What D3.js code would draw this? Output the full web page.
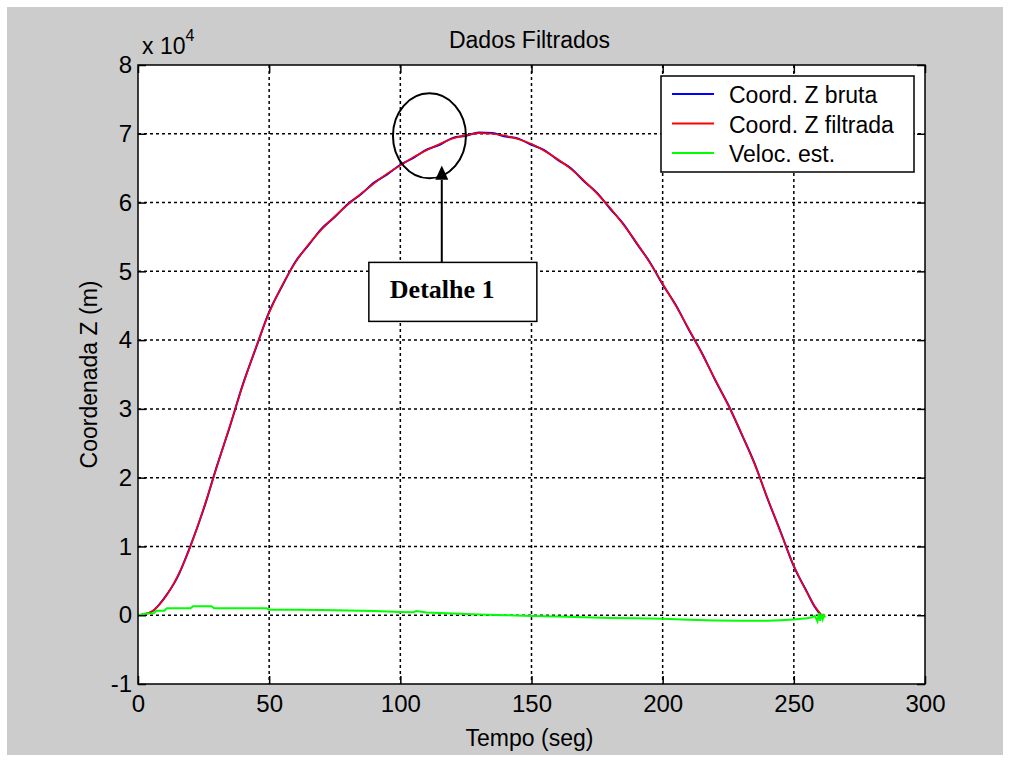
<!DOCTYPE html>
<html>
<head>
<meta charset="utf-8">
<script src="https://cdn.jsdelivr.net/npm/d3@7"></script>
<style>
  body { margin: 0; background: #fff; }
  text { font-family: "Liberation Sans", Arial, sans-serif; fill: #000; }
  text.serif { font-family: "Liberation Serif", "Times New Roman", serif; font-weight: bold; }
</style>
</head>
<body>
<div id="wrapper"></div>
<script>
// tempo (seg) e coordenada Z (m)
const tempoZ = [0,5,10,15,20,25,30,35,40,45,50,55,60,65,70,75,80,85,90,95,100,105,110,115,120,125,130,
  135,140,145,150,155,160,165,170,175,180,185,190,195,200,205,210,215,220,225,230,235,240,245,250,255,258,260.6];
const zFiltrada = [0,500,2400,5600,10000,15500,21500,27500,33500,39000,44000,48000,51300,53900,56100,58000,59700,61300,62800,64200,65400,66600,67600,68500,69300,69800,70100,
  70000,69700,69200,68500,67500,66300,64900,63200,61300,59200,56800,54200,51300,48200,45000,41600,38000,34300,30500,26500,22000,17000,12000,7200,3300,1300,0];
const zBruta = [0,450,2500,5500,10100,15400,21600,27400,33600,38900,44100,47900,51400,53800,56200,57900,59800,61200,62900,64100,65500,66500,67700,68400,69400,69700,70200,
  70100,69600,69300,68400,67600,66200,65000,63100,61400,59100,56900,54100,51400,48100,45100,41500,38100,34200,30600,26400,22100,16900,12100,7100,3400,1200,-100];

// velocidade estimada
const tempoV = [0,3,6,7,10,11,20,21,28,29,49,50,60,70,80,90,100,105,106,110,120,130,140,150,160,170,180,190,200,210,
  220,230,240,245,250,255,257,258,259,259.5,260,260.5,261,261.5,262];
const veloc = [0,250,300,650,650,1000,1000,1300,1300,1000,1000,800,780,750,700,600,480,450,600,380,250,120,0,-100,-200,-300,-400,-450,-500,-650,
  -750,-800,-800,-720,-620,-450,-300,-100,-900,300,-800,200,-600,0,-300];

const xTicks = [0,50,100,150,200,250,300];
const yTicks = [-1,0,1,2,3,4,5,6,7,8];
const legendNames = ["Coord. Z bruta","Coord. Z filtrada","Veloc. est."];
const legendColors = ["#0000ff","#ff0000","#00ff00"];

const width = 1009, height = 762;
const plot = {left:138, right:925, top:65, bottom:684};

const svg = d3.select("#wrapper").append("svg")
  .attr("width", width).attr("height", height);

// figure background
svg.append("rect").attr("x",7).attr("y",7).attr("width",996).attr("height",748).attr("fill","#cccccc");

const xScale = d3.scaleLinear().domain([0,300]).range([plot.left, plot.right]);
const yScale = d3.scaleLinear().domain([-10000,80000]).range([plot.bottom, plot.top]);

svg.append("rect")
  .attr("x",plot.left).attr("y",plot.top)
  .attr("width",plot.right-plot.left).attr("height",plot.bottom-plot.top)
  .attr("fill","#fff");

svg.append("clipPath").attr("id","clip").append("rect")
  .attr("x",plot.left).attr("y",plot.top)
  .attr("width",plot.right-plot.left).attr("height",plot.bottom-plot.top);

// grid
const grid = svg.append("g").attr("stroke","#000").attr("stroke-width",1.5).attr("stroke-dasharray","3,3");
grid.selectAll(".gx").data(xTicks.slice(1,-1)).join("line")
  .attr("x1",d=>xScale(d)).attr("x2",d=>xScale(d))
  .attr("y1",plot.top).attr("y2",plot.bottom);
grid.selectAll(".gy").data(yTicks.slice(1,-1)).join("line")
  .attr("y1",d=>yScale(d*1e4)).attr("y2",d=>yScale(d*1e4))
  .attr("x1",plot.left).attr("x2",plot.right);

// data
const lines = svg.append("g").attr("clip-path","url(#clip)").attr("fill","none");
const lineZ = d3.line().x((d,i)=>xScale(tempoZ[i])).y(d=>yScale(d)).curve(d3.curveMonotoneX);
const lineV = d3.line().x((d,i)=>xScale(tempoV[i])).y(d=>yScale(d));

lines.append("path").attr("d",lineZ(zBruta)).attr("stroke",legendColors[0]).attr("stroke-width",2);
lines.append("path").attr("d",lineZ(zFiltrada)).attr("stroke",legendColors[1]).attr("stroke-width",1.6);
lines.append("path").attr("d",lineV(veloc)).attr("stroke",legendColors[2]).attr("stroke-width",2);

// axes
const fmtY = d => String(Math.round(d/1e4));
const axB = svg.append("g").attr("transform",`translate(0,${plot.bottom})`)
  .call(d3.axisBottom(xScale).tickValues(xTicks).tickSize(-8).tickPadding(11));
const axT = svg.append("g").attr("transform",`translate(0,${plot.top})`)
  .call(d3.axisTop(xScale).tickValues(xTicks).tickSize(-8).tickFormat(""));
const axL = svg.append("g").attr("transform",`translate(${plot.left},0)`)
  .call(d3.axisLeft(yScale).tickValues(yTicks.map(d=>d*1e4)).tickSize(-8).tickPadding(6).tickFormat(fmtY));
const axR = svg.append("g").attr("transform",`translate(${plot.right},0)`)
  .call(d3.axisRight(yScale).tickValues(yTicks.map(d=>d*1e4)).tickSize(-8).tickFormat(""));
[axB,axT,axL,axR].forEach(a=>{
  a.select(".domain").remove();
  a.selectAll(".tick line").attr("stroke","#000").attr("stroke-width",1.5);
  a.selectAll("text").attr("font-size",24).attr("font-family",null);
});

svg.append("rect")
  .attr("x",plot.left).attr("y",plot.top)
  .attr("width",plot.right-plot.left).attr("height",plot.bottom-plot.top)
  .attr("fill","none").attr("stroke","#000").attr("stroke-width",1.5);

// exponent
const expo = svg.append("text").attr("x",142).attr("y",54).attr("font-size",23);
expo.append("tspan").text("x 10");
expo.append("tspan").attr("font-size",16).attr("dy",-13).text("4");

// titles
svg.append("text").attr("x",(plot.left+plot.right)/2 - 2).attr("y",48)
  .attr("text-anchor","middle").attr("font-size",23).text("Dados Filtrados");
svg.append("text").attr("x",(plot.left+plot.right)/2 - 2).attr("y",746)
  .attr("text-anchor","middle").attr("font-size",23).text("Tempo (seg)");
svg.append("text").attr("transform",`translate(97,${(plot.top+plot.bottom)/2}) rotate(-90)`)
  .attr("text-anchor","middle").attr("font-size",23).text("Coordenada Z (m)");

// legend
const leg = svg.append("g").attr("transform","translate(661,76)");
leg.append("rect").attr("width",253).attr("height",96).attr("fill","#fff")
  .attr("stroke","#000").attr("stroke-width",1.5);
legendNames.forEach((name,i)=>{
  const yy = 18 + i*29.5;
  leg.append("line").attr("x1",11).attr("x2",53).attr("y1",yy).attr("y2",yy)
    .attr("stroke",legendColors[i]).attr("stroke-width",2);
  leg.append("text").attr("x",68).attr("y",yy+9).attr("font-size",23).text(name);
});

// annotation "Detalhe 1"
const ann = svg.append("g").attr("stroke","#000").attr("stroke-width",2);
ann.append("ellipse").attr("cx",xScale(111.1)).attr("cy",yScale(69700))
  .attr("rx",36.5).attr("ry",42.5).attr("fill","none");
const ax = xScale(115.8);
ann.append("line").attr("x1",ax).attr("x2",ax).attr("y1",yScale(51300)).attr("y2",yScale(63300));
ann.append("path").attr("d",`M${ax},${yScale(65400)} L${ax-6.5},${yScale(63300)} L${ax+6.5},${yScale(63300)} Z`)
  .attr("fill","#000").attr("stroke","none");
ann.append("rect").attr("x",xScale(88)).attr("y",yScale(51300))
  .attr("width",168).attr("height",59).attr("fill","#fff").attr("stroke-width",1.5);
svg.append("text").attr("class","serif").attr("x",xScale(88)+21).attr("y",yScale(51300)+36)
  .attr("font-size",26).text("Detalhe 1");
</script>
</body>
</html>
